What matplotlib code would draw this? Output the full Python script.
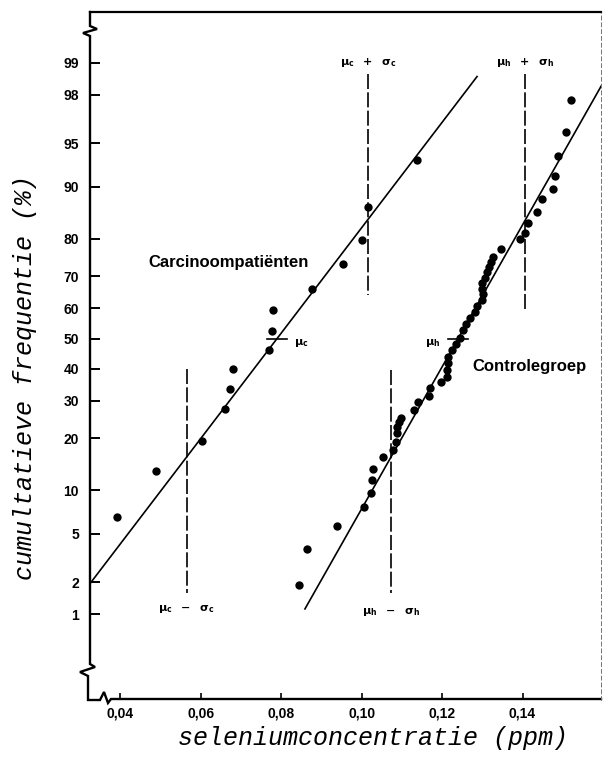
import numpy as np
import matplotlib.pyplot as plt
from statistics import NormalDist

probit = NormalDist().inv_cdf


def z(pct):
    # percentage -> standard normal quantile (probability paper scale)
    return np.array([probit(p / 100) for p in np.atleast_1d(pct)])


# carcinoma patients
carc_ppm = [0.0393, 0.0489, 0.0604, 0.0661, 0.0673, 0.0681, 0.0770,
            0.0778, 0.0780, 0.0877, 0.0954, 0.1001, 0.1016, 0.1138]
carc_pct = [6.6, 13.2, 19.4, 27.6, 33.5, 39.9, 46.1,
            52.5, 59.5, 66.2, 73.5, 79.7, 86.6, 93.4]

# control group
ctrl_ppm = [0.0845, 0.0865, 0.0939, 0.1006, 0.1024, 0.1026, 0.1029, 0.1053,
            0.1078, 0.1086, 0.1088, 0.1088, 0.1093, 0.1098, 0.1131, 0.1140,
            0.1168, 0.1170, 0.1197, 0.1212, 0.1212, 0.1215, 0.1215, 0.1225,
            0.1235, 0.1245, 0.1252, 0.1260, 0.1270, 0.1282, 0.1287, 0.1299,
            0.1302, 0.1299, 0.1299, 0.1307, 0.1312, 0.1317, 0.1322, 0.1327,
            0.1347, 0.1394, 0.1406, 0.1414, 0.1436, 0.1449, 0.1476, 0.1481,
            0.1488, 0.1508, 0.1521]
ctrl_pct = [1.9, 3.8, 5.7, 7.8, 9.7, 11.7, 13.6, 15.9,
            17.4, 19.2, 21.3, 22.7, 24.1, 25.1, 27.4, 29.6,
            31.4, 33.7, 35.6, 37.3, 39.5, 41.8, 43.8, 46.1,
            48.2, 50.2, 52.9, 54.9, 56.9, 58.9, 60.8, 62.7,
            64.6, 66.2, 68.0, 69.5, 71.2, 72.7, 74.1, 75.4,
            77.5, 79.9, 81.3, 83.5, 85.7, 88.0, 89.6, 91.5,
            93.8, 95.9, 97.8]

# fitted normal distributions
mu_c, sd_c = 0.079, 0.0225
mu_h, sd_h = 0.124, 0.0167
carc_fit_pct = [1.88, 98.64]
ctrl_fit_pct = [1.13, 99.2]

# vertical extents (%) of the mu +/- sigma marker lines
c_minus_pct = [40.0, 1.6]
c_plus_pct = [98.7, 64.3]
h_minus_pct = [39.5, 1.6]
h_plus_pct = [98.7, 58.8]

yticks_pct = [1, 2, 5, 10, 20, 30, 40, 50, 60, 70, 80, 90, 95, 98, 99]
xticks = [0.04, 0.06, 0.08, 0.10, 0.12, 0.14]
xtick_labels = ['0,04', '0,06', '0,08', '0,10', '0,12', '0,14']

W, H = 603, 779
fig = plt.figure(figsize=(W / 100, H / 100), dpi=100)
L, R, T, B = 90, 601, 12, 700
ax = fig.add_axes([L / W, (H - B) / H, (R - L) / W, (B - T) / H])

# points and fitted lines
ax.plot(carc_ppm, z(carc_pct), 'o', color='k', ms=6, mew=0)
ax.plot(ctrl_ppm, z(ctrl_pct), 'o', color='k', ms=6, mew=0)
zz = z(carc_fit_pct)
ax.plot(mu_c + sd_c * zz, zz, color='k', lw=1.2)
zz = z(ctrl_fit_pct)
ax.plot(mu_h + sd_h * zz, zz, color='k', lw=1.2)

# dashed mu +/- sigma lines
for x, ext in [(mu_c - sd_c, c_minus_pct), (mu_c + sd_c, c_plus_pct),
               (mu_h - sd_h, h_minus_pct), (mu_h + sd_h, h_plus_pct)]:
    ax.plot([x, x], z(ext), color='k', lw=1.2, dashes=(9, 2))

# short marks at the means
for mu in (mu_c, mu_h):
    ax.plot([mu - 0.0025, mu + 0.0025], [0, 0], color='k', lw=1.2)

greek = dict(fontsize=8, color='k', ha='center', va='center')
ax.text(mu_c + sd_c, 2.33, r'$\mathbf{μ_c\ \ +\ \ σ_c}$', **greek)
ax.text(mu_h + sd_h, 2.33, r'$\mathbf{μ_h\ \ +\ \ σ_h}$', **greek)
ax.text(mu_c - sd_c, -2.28, r'$\mathbf{μ_c\ \ -\ \ σ_c}$', **greek)
ax.text(mu_h - sd_h, -2.31, r'$\mathbf{μ_h\ \ -\ \ σ_h}$', **greek)
ax.text(mu_c + 0.0042, -0.04, r'$\mathbf{μ_c}$', fontsize=8, ha='left', va='center')
ax.text(mu_h - 0.0045, -0.04, r'$\mathbf{μ_h}$', fontsize=8, ha='right', va='center')

lab = dict(fontsize=12, fontweight='bold', family='Liberation Sans', va='center')
ax.text(0.0470, 0.645, 'Carcinoompatiënten', ha='left', **lab)
ax.text(0.1275, -0.24, 'Controlegroep', ha='left', **lab)

ax.set_xlim(0.0325, (R + 41) / 4025)
ax.set_ylim(-3.048, 2.753)

ax.set_yticks(z(yticks_pct))
ax.set_yticklabels([str(p) for p in yticks_pct])
ax.set_xticks(xticks)
ax.set_xticklabels(xtick_labels)
ax.tick_params(axis='y', direction='in', length=7, width=1.4, pad=8)
ax.tick_params(axis='x', direction='in', length=5, width=1.2, pad=5)
for t in ax.get_xticklabels() + ax.get_yticklabels():
    t.set_family('Liberation Sans')
    t.set_fontweight('bold')
    t.set_fontsize(10)

# frame: broken left and bottom axes drawn by hand
for s in ('left', 'bottom'):
    ax.spines[s].set_visible(False)
ax.spines['top'].set_linewidth(1.6)
ax.spines['right'].set_linewidth(0.7)
ax.spines['right'].set_linestyle((0, (4, 3)))
ax.spines['right'].set_color('0.45')

path = [(90, 12), (90, 26), (97, 29), (83, 33), (90, 36), (90, 664),
        (95, 667), (80, 672), (88, 676), (88, 700), (100, 700), (104, 692),
        (108, 703), (111, 699), (R, 699)]
px = [(x - L) / (R - L) for x, y in path]
py = [(B - y) / (B - T) for x, y in path]
ax.plot(px, py, color='k', lw=1.7, transform=ax.transAxes, clip_on=False,
        solid_joinstyle='miter')

hand = dict(family='Liberation Mono', style='italic', fontsize=18, color='k')
fig.text(373 / W, 1 - 738 / H, 'seleniumconcentratie (ppm)',
         ha='center', va='center', **hand)
fig.text(25 / W, 1 - 378 / H, 'cumultatieve frequentie (%)',
         ha='center', va='center', rotation=90, **hand)

fig.savefig('out.png', dpi=100)
